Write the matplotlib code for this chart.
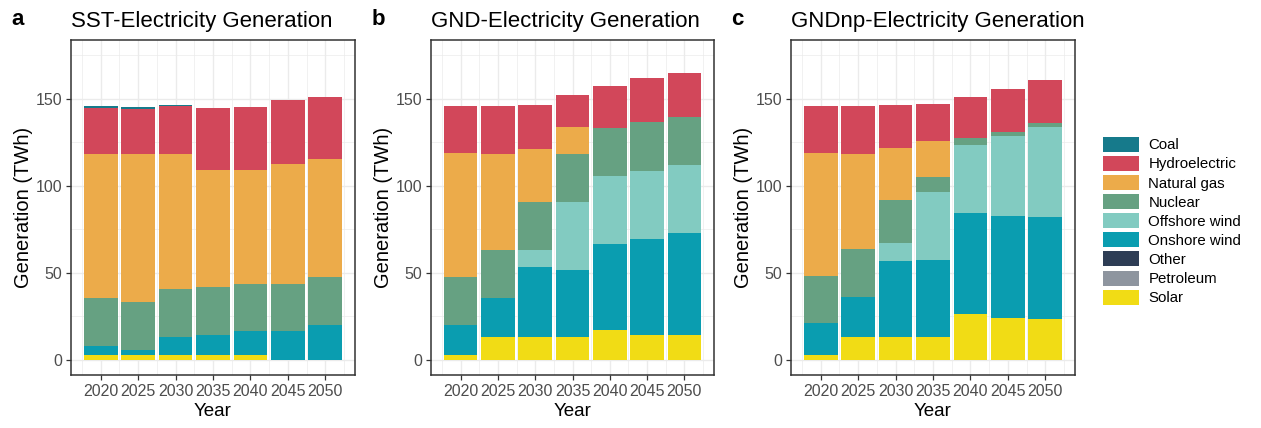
#Stacked electricity generation by source for three scenarios

import numpy as np
import matplotlib.pyplot as plt
from matplotlib.patches import Patch

plt.rcParams['font.family'] = ['Liberation Sans', 'DejaVu Sans']

years = [2020, 2025, 2030, 2035, 2040, 2045, 2050]

sources = ['Coal', 'Hydroelectric', 'Natural gas', 'Nuclear', 'Offshore wind',
           'Onshore wind', 'Other', 'Petroleum', 'Solar']
colors = {
	'Coal': '#167a8b',
	'Hydroelectric': '#d2475a',
	'Natural gas': '#ecab4a',
	'Nuclear': '#66a182',
	'Offshore wind': '#82cbc1',
	'Onshore wind': '#0a9db0',
	'Other': '#2e3d55',
	'Petroleum': '#8e959f',
	'Solar': '#f1dc15',
}

#generation in TWh, one list per source
sst_coal      = [1.3, 0.9, 0.8, 0, 0, 0, 0]
sst_hydro     = [26.4, 26.2, 27.7, 35.4, 36.2, 36.7, 36.0]
sst_gas       = [82.6, 84.7, 77.6, 67.3, 65.2, 68.8, 67.8]
sst_nuclear   = [27.4, 27.4, 27.6, 27.6, 27.2, 27.2, 27.4]
sst_offshore  = [0, 0, 0, 0, 0, 0, 0]
sst_onshore   = [5.0, 2.9, 9.8, 11.1, 13.6, 16.6, 20.0]
sst_other     = [0, 0, 0, 0, 0, 0, 0]
sst_petroleum = [0, 0, 0, 0, 0, 0, 0]
sst_solar     = [3.0, 3.0, 3.0, 3.0, 3.0, 0, 0]

gnd_coal      = [0, 0, 0, 0, 0, 0, 0]
gnd_hydro     = [26.8, 27.7, 25.5, 18.3, 24.5, 25.3, 25.4]
gnd_gas       = [71.5, 55.0, 30.5, 15.7, 0, 0, 0]
gnd_nuclear   = [27.4, 27.6, 27.5, 27.5, 27.5, 28.4, 27.6]
gnd_offshore  = [0, 0, 9.9, 38.9, 38.8, 38.7, 38.8]
gnd_onshore   = [17.0, 22.6, 40.3, 38.8, 49.7, 55.4, 58.9]
gnd_other     = [0, 0, 0, 0, 0, 0, 0]
gnd_petroleum = [0, 0, 0, 0, 0, 0, 0]
gnd_solar     = [3.0, 12.8, 12.8, 12.8, 17.0, 14.1, 14.1]

gndnp_coal      = [0, 0, 0, 0, 0, 0, 0]
gndnp_hydro     = [26.8, 27.7, 24.8, 21.1, 23.8, 24.7, 24.8]
gndnp_gas       = [70.7, 54.2, 29.7, 20.6, 0, 0, 0]
gndnp_nuclear   = [27.2, 27.6, 24.8, 9.1, 4.2, 2.1, 2.1]
gndnp_offshore  = [0, 0, 10.6, 38.7, 39.0, 45.9, 51.6]
gndnp_onshore   = [18.0, 23.4, 43.8, 44.7, 57.9, 58.7, 58.9]
gndnp_other     = [0, 0, 0, 0, 0, 0, 0]
gndnp_petroleum = [0, 0, 0, 0, 0, 0, 0]
gndnp_solar     = [3.0, 12.8, 12.8, 12.8, 26.3, 24.2, 23.2]

scenarios = [
	('a', 'SST-Electricity Generation',
	 [sst_coal, sst_hydro, sst_gas, sst_nuclear, sst_offshore,
	  sst_onshore, sst_other, sst_petroleum, sst_solar]),
	('b', 'GND-Electricity Generation',
	 [gnd_coal, gnd_hydro, gnd_gas, gnd_nuclear, gnd_offshore,
	  gnd_onshore, gnd_other, gnd_petroleum, gnd_solar]),
	('c', 'GNDnp-Electricity Generation',
	 [gndnp_coal, gndnp_hydro, gndnp_gas, gndnp_nuclear, gndnp_offshore,
	  gndnp_onshore, gndnp_other, gndnp_petroleum, gndnp_solar]),
]

W, H = 1261, 428
fig = plt.figure(figsize=(W / 100, H / 100), dpi=100)

#panel boxes in pixels: left, right, top, bottom
panels = [(71, 355), (431, 714), (791, 1075)]
top, bottom = 40, 375

grid_col = '#ebebeb'
text_col = '#4d4d4d'

def draw_panel(ax, letter, title, series):
	#stack from the last source (Solar) at the bottom up to Coal on top
	base = np.zeros(len(years))
	for name, vals in reversed(list(zip(sources, series))):
		vals = np.array(vals, dtype=float)
		ax.bar(years, vals, bottom=base, width=4.5, color=colors[name], linewidth=0, zorder=2)
		base += vals

	ax.set_xlim(2016.025, 2053.975)
	ax.set_ylim(-8.75, 183.75)
	ax.set_xticks(years)
	ax.set_xticks(np.arange(2017.5, 2055, 5), minor=True)
	ax.set_yticks([0, 50, 100, 150])
	ax.set_yticks([25, 75, 125, 175], minor=True)
	ax.grid(which='major', color=grid_col, linewidth=1.0, zorder=0)
	ax.grid(which='minor', color=grid_col, linewidth=0.5, zorder=0)
	ax.set_axisbelow(True)

	for s in ax.spines.values():
		s.set_color('#333333')
		s.set_linewidth(1.1)

	ax.tick_params(which='major', length=3.5, width=0.9, color='#333333',
	               labelsize=11.5, labelcolor=text_col, pad=3)
	ax.tick_params(which='minor', length=0)

	ax.set_xlabel('Year', fontsize=13.5, color='black', labelpad=3)
	ax.set_ylabel('Generation (TWh)', fontsize=14.5, color='black')
	ax.yaxis.set_label_coords(-0.135, 0.5)

	ax.set_title(title, fontsize=16, loc='left', pad=9, color='black')
	ax.text(-0.21, 1.03, letter, transform=ax.transAxes, fontsize=16,
	        fontweight='bold', va='bottom', ha='left')

for (left, right), (letter, title, series) in zip(panels, scenarios):
	ax = fig.add_axes([left / W, 1 - bottom / H, (right - left) / W, (bottom - top) / H])
	ax.set_facecolor('white')
	draw_panel(ax, letter, title, series)

handles = [Patch(facecolor=colors[s], edgecolor='none', label=s) for s in sources]
fig.legend(handles=handles, loc='center left', bbox_to_anchor=(1103 / W, 1 - 221 / H),
           frameon=False, fontsize=10.8, handlelength=2.4, handleheight=1.15,
           handletextpad=0.62, labelspacing=0.24, borderpad=0, borderaxespad=0)

fig.savefig('out.png', dpi=100, facecolor='white')
